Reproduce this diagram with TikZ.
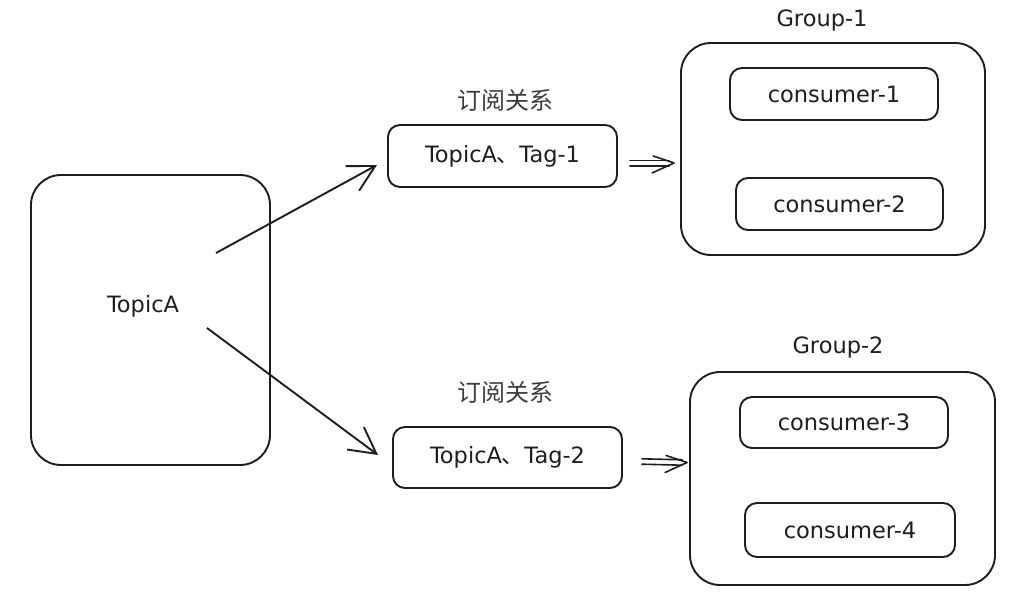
\documentclass[tikz,border=0pt]{standalone}
\usepackage{fontspec}
\setmainfont{DejaVu Sans}
\newfontfamily\cjk{Noto Sans CJK SC}
\usetikzlibrary{arrows.meta,calc}
\definecolor{ink}{HTML}{1E1E1E}
\definecolor{cngray}{HTML}{3C3C3C}
\newcommand\dblarr[2]{%
  \draw[dline] ($(#1)+(0,-2.7)$) -- ($(#2)+(-5,-2.7)$);
  \draw[dline] ($(#1)+(0,2.7)$) -- ($(#2)+(-5,2.7)$);
  \draw[dline,line join=round] ($(#2)+(-21,-7)$) -- (#2) -- ($(#2)+(-22,10)$);
}
\begin{document}
\begin{tikzpicture}[x=1pt,y=-1pt,
  sbox/.style={draw=ink, line width=1.9pt, rounded corners=#1, inner sep=0pt,
    font=\fontsize{22.5}{26}\selectfont, text=ink},
  txt/.style={inner sep=0pt, font=\fontsize{22.5}{26}\selectfont, text=ink},
  cnlabel/.style={inner sep=0pt, font=\cjk\fontsize{24}{28}\selectfont, text=cngray},
  conn/.style={draw=ink, line width=1.9pt, -{Straight Barb[length=26pt,width=28pt]}},
  dline/.style={draw=ink, line width=1.6pt, line cap=round}]
\useasboundingbox (0,0) rectangle (1032,607);
\fill[white] (0,0) rectangle (1032,607);

% TopicA
\node[sbox=30pt, minimum width=239pt, minimum height=290pt] (topic) at (150.5,320) {};
\node[txt] (topictxt) at (143,306) {TopicA};

% subscription boxes
\node[cnlabel] (l1) at (505,100) {订阅关系};
\node[sbox=12pt, minimum width=229pt, minimum height=62pt] (t1) at (502.5,156) {TopicA{\cjk 、}Tag-1};
\node[cnlabel] (l2) at (505,392) {订阅关系};
\node[sbox=12pt, minimum width=229pt, minimum height=61pt] (t2) at (507.5,457.5) {TopicA{\cjk 、}Tag-2};

% Group 1
\node[txt] (g1t) at (822,20) {Group-1};
\node[sbox=30pt, minimum width=304pt, minimum height=212pt] (g1) at (833,149) {};
\node[sbox=12pt, minimum width=208pt, minimum height=52pt] (c1) at (834,94) {consumer-1};
\node[sbox=12pt, minimum width=207pt, minimum height=52pt] (c2) at (839.5,204) {consumer-2};

% Group 2
\node[txt] (g2t) at (838,347) {Group-2};
\node[sbox=30pt, minimum width=305pt, minimum height=213pt] (g2) at (842.5,478.5) {};
\node[sbox=12pt, minimum width=208pt, minimum height=51pt] (c3) at (844,422.5) {consumer-3};
\node[sbox=12pt, minimum width=210pt, minimum height=54pt] (c4) at (850,530) {consumer-4};

% arrows from TopicA
\coordinate (a1s) at (216,253);
\coordinate (a1e) at (377,165);
\coordinate (a2s) at (207,328);
\coordinate (a2e) at (378,455);
\draw[conn] (a1s) -- (a1e);
\draw[conn] (a2s) -- (a2e);

% double arrows to groups
\coordinate (d1s) at ($(t1.east)+(12,7)$);
\coordinate (d1e) at ($(g1.west)+(-6,14)$);
\coordinate (d2s) at ($(t2.east)+(19,4)$);
\coordinate (d2e) at ($(g2.west)+(-2,-16)$);
\dblarr{d1s}{d1e}
\dblarr{d2s}{d2e}
\end{tikzpicture}
\end{document}
